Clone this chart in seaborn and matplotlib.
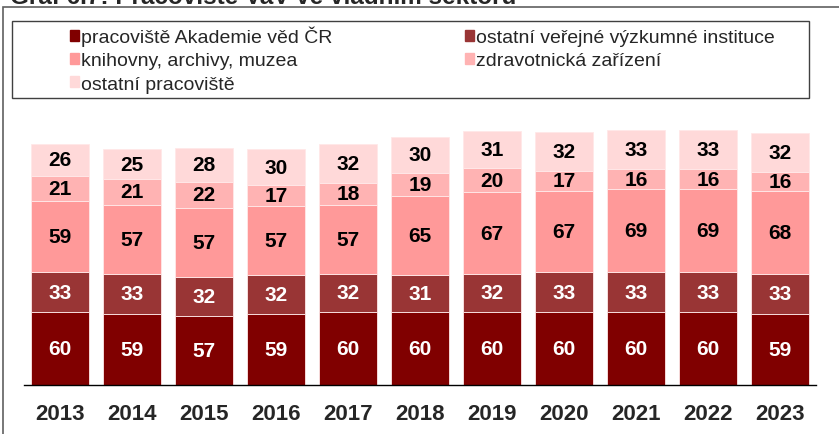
import matplotlib
matplotlib.use('Agg')
import matplotlib.pyplot as plt
import matplotlib.patches as mpatches
import seaborn as sns
import pandas as pd
import numpy as np

# Data
years = ['2013', '2014', '2015', '2016', '2017', '2018', '2019', '2020', '2021', '2022', '2023']
akademie = [60, 59, 57, 59, 60, 60, 60, 60, 60, 60, 59]
ostatni_vvi = [33, 33, 32, 32, 32, 31, 32, 33, 33, 33, 33]
knihovny = [59, 57, 57, 57, 57, 65, 67, 67, 69, 69, 68]
zdravotnicka = [21, 21, 22, 17, 18, 19, 20, 17, 16, 16, 16]
ostatni_prac = [26, 25, 28, 30, 32, 30, 31, 32, 33, 33, 32]

series = [
    ('pracoviště Akademie věd ČR', akademie, '#800000', 'white'),
    ('ostatní veřejné výzkumné instituce', ostatni_vvi, '#993535', 'white'),
    ('knihovny, archivy, muzea', knihovny, '#FF9999', 'black'),
    ('zdravotnická zařízení', zdravotnicka, '#FFB3B3', 'black'),
    ('ostatní pracoviště', ostatni_prac, '#FFD9D9', 'black'),
]

sns.set_style('white')
plt.rcParams['font.family'] = ['Liberation Sans', 'DejaVu Sans']

W, H = 839, 435
fig = plt.figure(figsize=(W / 100, H / 100), dpi=100)
ax = fig.add_axes([24 / W, 1 - 386 / H, 792 / W, (386 - 107.5) / H])

df = pd.DataFrame({'year': years})
bottom = np.zeros(len(years))
for name, vals, color, tcolor in series:
    sns.barplot(x=df['year'], y=vals, bottom=bottom, color=color, saturation=1,
                width=0.8, edgecolor='#FFE8E8', linewidth=0.6, errorbar=None, ax=ax)
    ax.bar_label(ax.containers[-1], labels=[str(v) for v in vals], label_type='center',
                 color=tcolor, fontsize=15, fontweight='bold')
    bottom = bottom + np.array(vals)

ax.set_xlim(-0.5, 10.5)
ax.set_ylim(0, 230)
ax.set_xlabel('')
ax.set_ylabel('')
ax.set_yticks([])
for s in ['top', 'right', 'left']:
    ax.spines[s].set_visible(False)
ax.spines['bottom'].set_color('black')
ax.spines['bottom'].set_linewidth(1)
ax.set_xticks(np.arange(-0.5, 11, 1), minor=True)
ax.tick_params(axis='x', which='minor', length=6, width=1, color='black', direction='out')
ax.tick_params(axis='x', which='major', length=0, pad=13, labelsize=16)
for lbl in ax.get_xticklabels():
    lbl.set_fontweight('bold')

# Legend
handles = [mpatches.Patch(color=c, label=n) for n, v, c, t in series]
order = [0, 2, 4, 1, 3]
fig.legend([handles[i] for i in order], [series[i][0] for i in order],
           loc='upper left', bbox_to_anchor=(52 / W, 1 - 9 / H), ncol=2,
           frameon=False, fontsize=14, handlelength=0.5, handleheight=0.5,
           handletextpad=0.1, labelspacing=0.33, columnspacing=6.8)

# Legend frame
fig.add_artist(mpatches.Rectangle((12 / W, 1 - 99 / H), 797 / W, 77 / H,
                                  transform=fig.transFigure, fill=False,
                                  edgecolor='#404040', linewidth=1))
# Outer frame
fig.add_artist(mpatches.Rectangle((3 / W, -0.2), 1.2, 1.2 - 8 / H,
                                  transform=fig.transFigure, fill=False,
                                  edgecolor='#606060', linewidth=1.2))
# Title (cut off at the top, as in the source)
fig.text(10 / W, 1 - 4 / H, 'Graf 6.7: Pracoviště VaV ve vládním sektoru',
         fontsize=17.5, fontweight='bold', va='baseline', ha='left')

fig.savefig('out.png', dpi=100)
